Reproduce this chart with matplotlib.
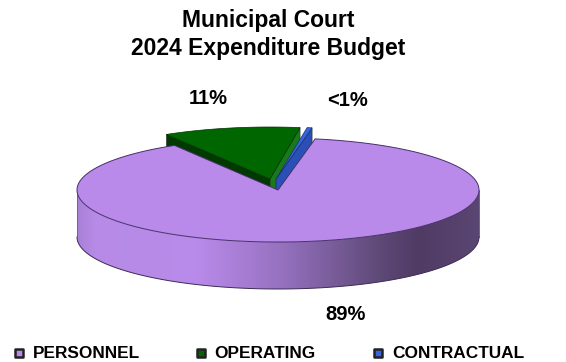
import numpy as np
import matplotlib
matplotlib.use('Agg')
import matplotlib.pyplot as plt
from matplotlib.colors import LinearSegmentedColormap
from matplotlib.patches import Polygon

plt.rcParams['font.family'] = ['Liberation Sans', 'DejaVu Sans']

# budget shares, percent
categories = ['PERSONNEL', 'OPERATING', 'CONTRACTUAL']
shares = [88.6, 11.0, 0.4]
value_labels = ['89%', '11%', '<1%']

purple = '#b98aea'
green = '#006600'
blue = '#3366e0'

W, H = 566, 362
cx, cy = 278, 190
a, b = 201, 52
depth = 47
start_deg = 121.0  # left edge of the operating slice


def arc(t0, t1, x0, y0, n=120):
    t = np.radians(np.linspace(t0, t1, n))
    return np.column_stack([x0 + a * np.cos(t), y0 - b * np.sin(t)])


def side_face(p0, p1, color, edge='#222222'):
    pts = [p0, p1, (p1[0], p1[1] + depth), (p0[0], p0[1] + depth)]
    ax.add_patch(Polygon(pts, closed=True, fc=color, ec=edge, lw=0.4))


fig = plt.figure(figsize=(W / 100, H / 100), dpi=100)
ax = fig.add_axes([0, 0, 1, 1])
ax.set_xlim(0, W)
ax.set_ylim(H, 0)
ax.axis('off')

# slice angles run clockwise from the start angle
op_sweep = shares[1] * 3.6
con_sweep = shares[2] * 3.6
op_t0, op_t1 = start_deg, start_deg - op_sweep
con_t0, con_t1 = op_t1 - 0.3, op_t1 - 0.3 - con_sweep

# operating slice, pulled out of the pie
gx, gy = 270, 179
g_arc = arc(op_t0, op_t1, gx, gy)
side_face((gx, gy), g_arc[0], '#003a00')
side_face((gx, gy), g_arc[-1], '#197a19')
ax.add_patch(Polygon(np.vstack([[gx, gy], g_arc]), closed=True, fc=green, ec='#003300', lw=0.5))

# contractual slice, pulled out less
bx, by = 276, 179
c_arc = arc(con_t0, con_t1, bx, by, n=20)
side_face((bx, by), c_arc[-1], '#2a50b8')
ax.add_patch(Polygon(np.vstack([[bx, by], c_arc]), closed=True, fc=blue, ec='#1c2f70', lw=0.5))

# personnel rim with a left to right shade
rim_top = arc(180, 360, cx, cy)
rim_bottom = arc(360, 180, cx, cy + depth)
rim = Polygon(np.vstack([rim_top, rim_bottom]), closed=True, fc='none', ec='none')
ax.add_patch(rim)
shade = LinearSegmentedColormap.from_list('rim', [
    (0.00, '#a880d6'), (0.04, '#b68ae6'), (0.30, '#b98aea'), (0.52, '#9470bd'),
    (0.75, '#5f4a78'), (0.85, '#4f3b63'), (1.00, '#5a4672')])
img = ax.imshow(np.linspace(0, 1, 256)[None, :], cmap=shade, aspect='auto',
                extent=(cx - a, cx + a, cy + depth + b, cy), zorder=1)
img.set_clip_path(rim)
ax.set_xlim(0, W)
ax.set_ylim(H, 0)
ax.plot(rim_bottom[:, 0], rim_bottom[:, 1], color='#3d2a55', lw=0.7, zorder=2)
ax.plot([cx - a, cx - a], [cy, cy + depth], color='#6a5088', lw=0.5, zorder=2)
ax.plot([cx + a, cx + a], [cy, cy + depth], color='#33264a', lw=0.5, zorder=2)

# personnel top face, with the notch left by the other two slices
p_arc = arc(con_t1 - 0.3, start_deg - 360, cx, cy, n=400)
ax.add_patch(Polygon(np.vstack([[cx, cy], p_arc]), closed=True, fc=purple, ec='#46306a',
                     lw=0.7, zorder=3))

ax.text(268, 21, 'Municipal Court', ha='center', va='center', fontsize=16.5, fontweight='bold')
ax.text(268, 49, '2024 Expenditure Budget', ha='center', va='center', fontsize=16.5, fontweight='bold')

ax.text(346, 315, value_labels[0], ha='center', va='center', fontsize=14.5, fontweight='bold')
ax.text(208, 99, value_labels[1], ha='center', va='center', fontsize=14.5, fontweight='bold')
ax.text(347, 100, value_labels[2], ha='center', va='center', fontsize=14.5, fontweight='bold')

# legend row
legend_x = [19, 201, 378]
legend_text_x = [33, 214, 392]
for x, tx, name, col in zip(legend_x, legend_text_x, categories, [purple, green, blue]):
    ax.scatter([x], [353], marker='s', s=40, fc=col, ec='#222222', lw=1.8, zorder=4)
    ax.text(tx, 353, name, ha='left', va='center', fontsize=12.4, fontweight='bold')

fig.savefig('out.png', dpi=100)
